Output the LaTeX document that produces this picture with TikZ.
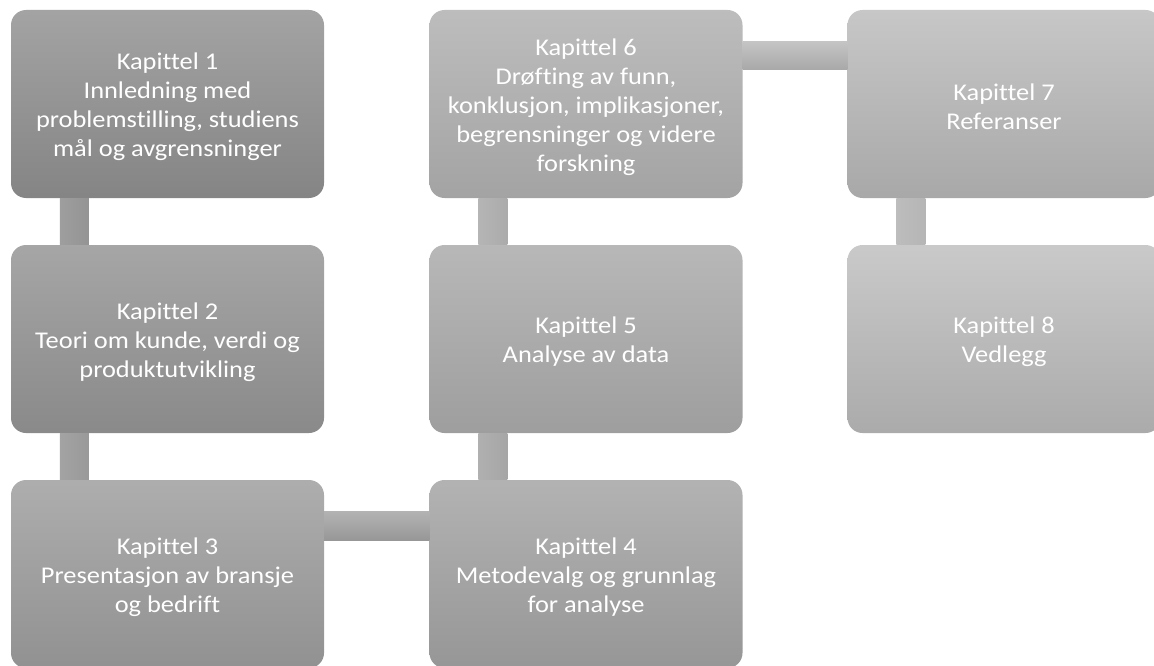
\documentclass[tikz,border=0pt]{standalone}
\usepackage{fontspec}
\setmainfont{Carlito}[Ligatures=NoCommon, FakeStretch=1.1]
\begin{document}
\begin{tikzpicture}[x=1pt,y=-1pt,
  chap/.style={rectangle, rounded corners=15pt, minimum width=313pt, minimum height=188pt,
    inner sep=0pt, align=center, text=white, font=\fontsize{24}{29}\selectfont},
  txt/.style={inner sep=0pt, align=center, text=white, font=\fontsize{24}{29}\selectfont},
  link/.style={draw=none}]
\useasboundingbox (0,0) rectangle (1154,666);
\clip (0,0) rectangle (1154,666);
\node[chap, top color=black!36, bottom color=black!48] (k1) at (167.5,104) {};
\node[chap, top color=black!35, bottom color=black!46] (k2) at (167.5,339) {};
\node[chap, top color=black!32, bottom color=black!43] (k3) at (167.5,574) {};
\node[chap, top color=black!30, bottom color=black!41] (k4) at (586,574) {};
\node[chap, top color=black!28, bottom color=black!38] (k5) at (586,339) {};
\node[chap, top color=black!26, bottom color=black!36] (k6) at (586,104) {};
\node[chap, top color=black!22, bottom color=black!34] (k7) at (1004,104) {};
\node[chap, top color=black!21, bottom color=black!33] (k8) at (1004,339) {};
\node[txt] (t1) at ([yshift=-3pt]k1.center) {Kapittel 1\\Innledning med\\problemstilling, studiens\\mål og avgrensninger};
\node[txt] (t2) at ([yshift=-3pt]k2.center) {Kapittel 2\\Teori om kunde, verdi og\\produktutvikling};
\node[txt] (t3) at ([yshift=-3pt]k3.center) {Kapittel 3\\Presentasjon av bransje\\og bedrift};
\node[txt] (t4) at ([yshift=-3pt]k4.center) {Kapittel 4\\Metodevalg og grunnlag\\for analyse};
\node[txt] (t5) at ([yshift=-3pt]k5.center) {Kapittel 5\\Analyse av data};
\node[txt] (t6) at ([yshift=-3pt]k6.center) {Kapittel 6\\Drøfting av funn,\\konklusjon, implikasjoner,\\begrensninger og videre\\forskning};
\node[txt] (t7) at ([yshift=-3pt]k7.center) {Kapittel 7\\Referanser};
\node[txt] (t8) at ([yshift=-3pt]k8.center) {Kapittel 8\\Vedlegg};
% connectors
\path[link, left color=black!38, right color=black!42] ([xshift=49pt]k1.south west) rectangle ([xshift=78pt]k2.north west);
\path[link, left color=black!36, right color=black!40] ([xshift=49pt]k2.south west) rectangle ([xshift=78pt]k3.north west);
\path[link, top color=black!30, bottom color=black!41] ([yshift=-32pt]k3.north east) rectangle ([yshift=-61pt]k4.north west);
\path[link, left color=black!31, right color=black!35] ([xshift=49pt]k4.north west) rectangle ([xshift=78pt]k5.south west);
\path[link, left color=black!29, right color=black!33] ([xshift=49pt]k5.north west) rectangle ([xshift=78pt]k6.south west);
\path[link, top color=black!23, bottom color=black!34] ([yshift=-32pt]k6.north east) rectangle ([yshift=-60pt]k7.north west);
\path[link, left color=black!26, right color=black!29] ([xshift=49pt]k7.south west) rectangle ([xshift=78pt]k8.north west);
\end{tikzpicture}
\end{document}
